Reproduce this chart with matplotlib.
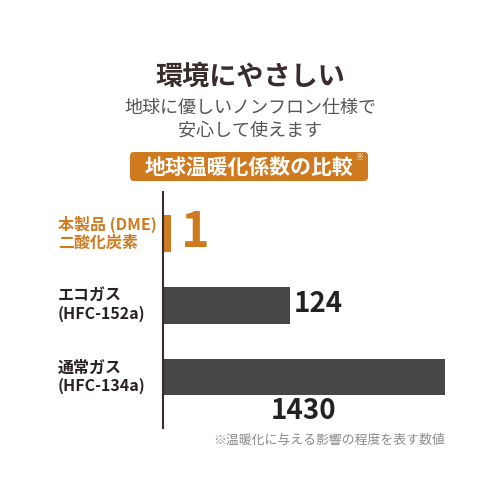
import matplotlib.pyplot as plt
import numpy as np
from matplotlib.patches import FancyBboxPatch
from matplotlib.transforms import blended_transform_factory

plt.rcParams['font.family'] = ['Noto Sans CJK JP', 'DejaVu Sans']

# data
categories = ['本製品 (DME)\n二酸化炭素', 'エコガス\n(HFC-152a)', '通常ガス\n(HFC-134a)']
gwp_values = [1, 124, 1430]
value_labels = ['1', '124', '1430']
title = '環境にやさしい'
subtitle = '地球に優しいノンフロン仕様で\n安心して使えます'
badge = '地球温暖化係数の比較'
footnote = '※温暖化に与える影響の程度を表す数値'

ORANGE = '#cf7a1f'
GRAY = '#474747'
DARK = '#3a2c2c'

# bars are not to scale in the original; this squashed scale gets close
def fwd(x):
    x = np.clip(x, 0, None)
    return np.log1p(x) * x ** 0.16

_grid = np.linspace(0, 5000, 20001)
def inv(y):
    return np.interp(y, fwd(_grid), _grid)

fig = plt.figure(figsize=(5, 5), dpi=100)
ax = fig.add_axes([0.326, 0.144, 0.564, 0.472])
ax.set_xscale('function', functions=(fwd, inv))

ypos = np.arange(len(categories))
colors = [ORANGE, GRAY, GRAY]
ax.barh(ypos, gwp_values, height=0.51, color=colors)
ax.set_xlim(0, 1430)
ax.set_ylim(2.71, -0.58)

for s in ['top', 'right', 'bottom']:
    ax.spines[s].set_visible(False)
ax.spines['left'].set_color(DARK)
ax.spines['left'].set_linewidth(1.5)
ax.set_xticks([])
ax.set_yticks([])

# value labels
ax.annotate(value_labels[0], (gwp_values[0], ypos[0]), xytext=(7, 1),
            textcoords='offset points', color=ORANGE, fontsize=35, fontweight='bold',
            ha='left', va='center')
ax.annotate(value_labels[1], (gwp_values[1], ypos[1]), xytext=(3, 1),
            textcoords='offset points', color='#222222', fontsize=20, fontweight='bold',
            ha='left', va='center')
ax.annotate(value_labels[2], (inv(fwd(gwp_values[2]) / 2), ypos[2] + 0.255), xytext=(0, -11),
            textcoords='offset points', color='#222222', fontsize=20, fontweight='bold',
            ha='center', va='center')

# category labels
trans = blended_transform_factory(fig.transFigure, ax.transData)
for i, cat in enumerate(categories):
    ax.text(0.116, ypos[i], cat, transform=trans, ha='left', va='center',
            fontsize=11.5, fontweight='bold', color=ORANGE if i == 0 else '#2a2222',
            linespacing=1.15, clip_on=False)

# header texts
fig.text(0.5, 1 - 77 / 500, title, ha='center', va='center', fontsize=19.5,
         fontweight='bold', color=DARK)
fig.text(0.5, 1 - 119 / 500, subtitle, ha='center', va='center', fontsize=13,
         color='#555555', linespacing=1.3)

box = FancyBboxPatch((130 / 500, 1 - 181 / 500), 238 / 500, 29 / 500,
                     boxstyle='round,pad=0,rounding_size=0.008',
                     transform=fig.transFigure, facecolor=ORANGE, edgecolor='none')
fig.patches.append(box)
fig.text(249 / 500, 1 - 167 / 500, badge, ha='center', va='center', fontsize=15,
         fontweight='bold', color='white')
fig.text(360 / 500, 1 - 157 / 500, '※', ha='center', va='center', fontsize=6,
         color='white')

fig.text(445 / 500, 1 - 440 / 500, footnote, ha='right', va='center', fontsize=9.3,
         color='#8a8a8a')

fig.savefig('out.png', dpi=100, facecolor='white')
